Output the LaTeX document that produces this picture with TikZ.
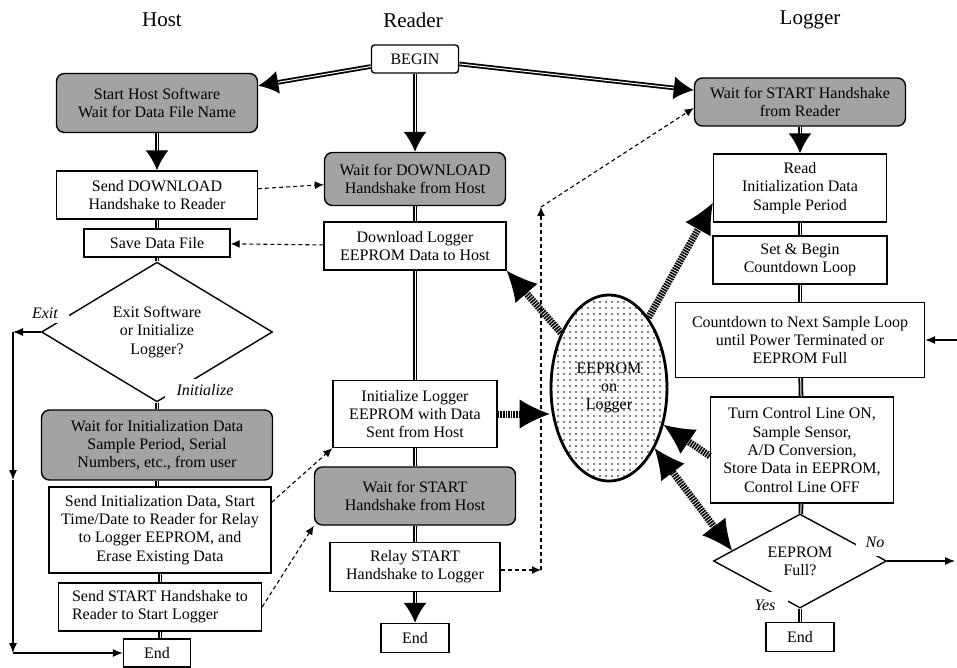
\documentclass[tikz,border=0pt]{standalone}
\usepackage{fontspec}
\setmainfont{Liberation Serif}
\usetikzlibrary{arrows.meta,shapes.geometric,patterns.meta,calc}
\begin{document}
\begin{tikzpicture}[x=1pt,y=-1pt,font=\fontsize{16}{18.3}\selectfont,
sz/.style 2 args={minimum width=#1pt,minimum height=#2pt},
box/.style={draw,line width=1.4pt,fill=white,align=center,inner sep=1pt},
grey/.style={box,fill=black!36,rounded corners=8pt},
dec/.style={diamond,draw,line width=1.4pt,align=center,inner sep=0pt},
dbl/.style={double,double distance=1pt,line width=1.8pt},
dbla/.style={dbl,-{Latex[length=20pt,width=23pt]}},
dsh/.style={line width=1.1pt,dash pattern=on 4pt off 3pt,-{Latex[length=9pt,width=8pt]}},
lp/.style={line width=1.1pt,-{Latex[length=10pt,width=8pt]}},
bigtip/.tip={Latex[length=30pt,width=29pt,line width=0pt]},
hatch/.style={line width=7pt,dash pattern=on 1.6pt off 1pt,-bigtip},
lbl/.style={fill=white,font=\fontsize{16}{18.3}\selectfont\itshape,inner ysep=5pt},
ttl/.style={font=\fontsize{21}{24}\selectfont}]
\useasboundingbox (0,0) rectangle (957,668);
% titles
\node[ttl] (tH) at (162,20) {Host};
\node[ttl] (tR) at (413,20) {Reader};
\node[ttl] (tL) at (810,20) {Logger};
% host
\node[grey,sz={201}{59}] (shs) at (157,103) {Start Host Software\\Wait for Data File Name};
\node[box,sz={201}{48}] (sdl) at (157,195) {Send DOWNLOAD\\Handshake to Reader};
\node[box,sz={146}{28}] (sdf) at (157,243) {Save Data File};
\node[dec,sz={231}{130}] (ex) at (157,332) {Exit Software\\or Initialize\\Logger?};
\node[lbl,inner xsep=11pt] (lx) at (45,313) {Exit};
\node[lbl,inner xsep=12pt] (li) at (205,390) {Initialize};
\node[grey,sz={231}{70}] (wid) at (157,445) {Wait for Initialization Data\\Sample Period, Serial\\Numbers, etc., from user};
\node[box,sz={222}{86}] (sid) at (160,530) {Send Initialization Data, Start\\Time/Date to Reader for Relay\\to Logger EEPROM, and\\Erase Existing Data};
\node[box,sz={203}{48},align=left] (ssh) at (160,607) {Send START Handshake to\\Reader to Start Logger};
\node[box,sz={67}{28}] (endH) at (157,653) {End};
% reader
\node[box,sz={87}{28},rounded corners=3pt] (beg) at (415,59) {BEGIN};
\node[grey,sz={181}{53}] (wdl) at (415,179) {Wait for DOWNLOAD\\Handshake from Host};
\node[box,sz={182}{48}] (dlg) at (415,246) {Download Logger\\EEPROM Data to Host};
\node[box,sz={164}{67}] (ilg) at (415,414) {Initialize Logger\\EEPROM with Data\\Sent from Host};
\node[grey,sz={201}{58}] (wsh) at (415,496) {Wait for START\\Handshake from Host};
\node[box,sz={170}{49}] (rly) at (415,567) {Relay START\\Handshake to Logger};
\node[box,sz={68}{29}] (endR) at (415,638) {End};
% logger
\node[grey,sz={211}{48}] (wsr) at (800,102) {Wait for START Handshake\\from Reader};
\node[box,sz={173}{68}] (rid) at (800,188) {Read\\Initialization Data\\Sample Period};
\node[box,sz={174}{48}] (sbc) at (800,260) {Set \& Begin\\Countdown Loop};
\node[box,sz={249}{75}] (cnt) at (800,340) {Countdown to Next Sample Loop\\until Power Terminated or\\EEPROM Full};
\node[box,sz={183}{106}] (tcl) at (802,450) {Turn Control Line ON,\\Sample Sensor,\\A/D Conversion,\\Store Data in EEPROM,\\Control Line OFF};
\node[dec,sz={173}{94}] (full) at (800,561) {EEPROM\\Full?};
\node[lbl,inner xsep=10pt,inner ysep=9pt] (ln) at (875,542) {No};
\node[lbl,inner xsep=13pt,inner ysep=8pt] (ly) at (765,605) {Yes};
\node[box,sz={68}{29}] (endL) at (800,637) {End};
\node[ellipse,draw,line width=2.8pt,pattern={Dots[distance=6pt,radius=0.8pt]},align=center,sz={116}{186}] (eep) at (609,388) {EEPROM\\on\\Logger};
% flow
\draw[dbla] (beg) -- (shs);
\draw[dbla] (beg) -- (wdl);
\draw[dbla] (beg) -- (wsr);
\draw[dbla] (shs) -- (sdl);
\foreach \a/\b in {sdl/sdf,sdf/ex,ex/wid,wid/sid,sid/ssh,ssh/endH}\draw[dbl] (\a) -- (\a |- \b.north);
\foreach \a/\b in {wdl/dlg,dlg/ilg,ilg/wsh,wsh/rly}\draw[dbl] (\a) -- (\b);
\draw[dbla] (rly) -- (endR);
\draw[dbla] (wsr) -- (rid);
\foreach \a/\b in {rid/sbc,sbc/cnt,cnt/tcl,tcl/full,full/endL}\draw[dbl] (\a) -- (\b);
% handshakes
\draw[dsh] (sdl) -- (wdl);
\draw[dsh] (dlg) -- (sdf);
\draw[dsh] ([yshift=-16pt]sid.north east) -- (ilg.south west);
\draw[dsh] (ssh.east) -- (wsh.south west);
\coordinate (c1) at (541,570);
\coordinate (c2) at (541,207);
\draw[dsh] ([yshift=-3pt]rly.east) -- (c1);
\draw[dsh] (c1) -- (c2);
\draw[dsh] (c2) -- ([yshift=-6pt]wsr.west);
% loops
\coordinate (c3) at (13,332);
\coordinate (c4) at (13,480);
\coordinate (c5) at (13,653);
\draw[lp] (ex) -- (c3);
\draw[lp] (c3) -- (c4);
\draw[lp] (c4) -- (c5);
\draw[lp] (c5) -- (endH);
\coordinate (c6) at (955,561);
\coordinate (c7) at (957,340);
\draw[lp] (full) -- (c6);
\draw[lp] (c7) -- (cnt);
% eeprom access
\draw[hatch] (eep) -- (dlg.south east);
\draw[hatch] (eep) -- ([yshift=-15pt]rid.west);
\draw[hatch] (ilg.east) -- (ilg.east -| eep.west);
\draw[hatch] ([yshift=-6pt]tcl.west) -- (eep);
\draw[hatch,bigtip-bigtip] (eep) -- ($(full.west)!.22!(full.north)$);
\end{tikzpicture}
\end{document}
